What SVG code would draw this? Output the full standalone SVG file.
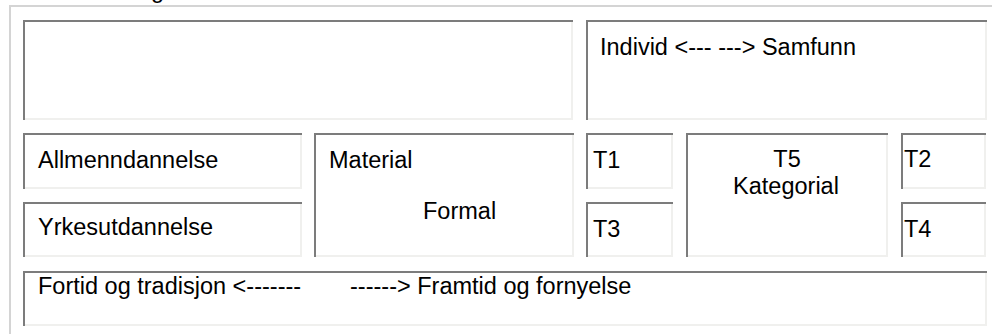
<svg xmlns="http://www.w3.org/2000/svg" width="992" height="334" viewBox="0 0 992 334">
  <style>
    text { font-family: "Liberation Sans", Arial, sans-serif; font-size: 23.5px; fill: #000; }
    .hi { fill: none; stroke: #7c7c7c; stroke-width: 2; }
    .lo { fill: none; stroke: #f0f0ee; stroke-width: 2; }
    .frame { fill: #d4d4d4; }
  </style>
  <rect width="992" height="334" fill="#fff"/>

  <!-- outer table frame -->
  <g id="table-frame">
    <rect class="frame" x="9" y="5" width="2" height="329"/>
    <rect class="frame" x="9" y="5" width="983" height="2"/>
  </g>
  <text x="151" y="-2">g</text>

  <g id="cell-top-left">
    <path class="lo" d="M572 20V119H23"/>
    <path class="hi" d="M24 120V21H573"/>
  </g>

  <g id="cell-individ-samfunn">
    <path class="lo" d="M986 20V119H586"/>
    <path class="hi" d="M587 120V21H987"/>
    <text x="600" y="55">Individ &lt;--- ---&gt; Samfunn</text>
  </g>

  <g id="cell-allmenndannelse">
    <path class="lo" d="M301 133V188H23"/>
    <path class="hi" d="M24 189V134H302"/>
    <text x="38" y="167.5">Allmenndannelse</text>
  </g>

  <g id="cell-yrkesutdannelse">
    <path class="lo" d="M301 202V256H23"/>
    <path class="hi" d="M24 257V203H302"/>
    <text x="38" y="235">Yrkesutdannelse</text>
  </g>

  <g id="cell-material-formal">
    <path class="lo" d="M573 133V256H314"/>
    <path class="hi" d="M315 257V134H574"/>
    <text x="329" y="167.5">Material</text>
    <text x="423" y="219">Formal</text>
  </g>

  <g id="cell-t1">
    <path class="lo" d="M672 133V188H586"/>
    <path class="hi" d="M587 189V134H673"/>
    <text x="593" y="167.5">T1</text>
  </g>

  <g id="cell-t3">
    <path class="lo" d="M672 202V256H586"/>
    <path class="hi" d="M587 257V203H673"/>
    <text x="593" y="236.5">T3</text>
  </g>

  <g id="cell-t5-kategorial">
    <path class="lo" d="M887 133V256H686"/>
    <path class="hi" d="M687 257V134H888"/>
    <text x="787" y="166.5" text-anchor="middle">T5</text>
    <text x="786" y="193.5" text-anchor="middle">Kategorial</text>
  </g>

  <g id="cell-t2">
    <path class="lo" d="M985 133V188H901"/>
    <path class="hi" d="M902 189V134H986"/>
    <text x="904" y="166.5">T2</text>
  </g>

  <g id="cell-t4">
    <path class="lo" d="M985 202V256H901"/>
    <path class="hi" d="M902 257V203H986"/>
    <text x="904" y="236.5">T4</text>
  </g>

  <g id="cell-fortid-framtid">
    <path class="lo" d="M986 271V325H23"/>
    <path class="hi" d="M24 326V272H987"/>
    <text x="38" y="294">Fortid og tradisjon &lt;-------</text>
    <text x="350" y="294">------&gt; Framtid og fornyelse</text>
  </g>
</svg>
